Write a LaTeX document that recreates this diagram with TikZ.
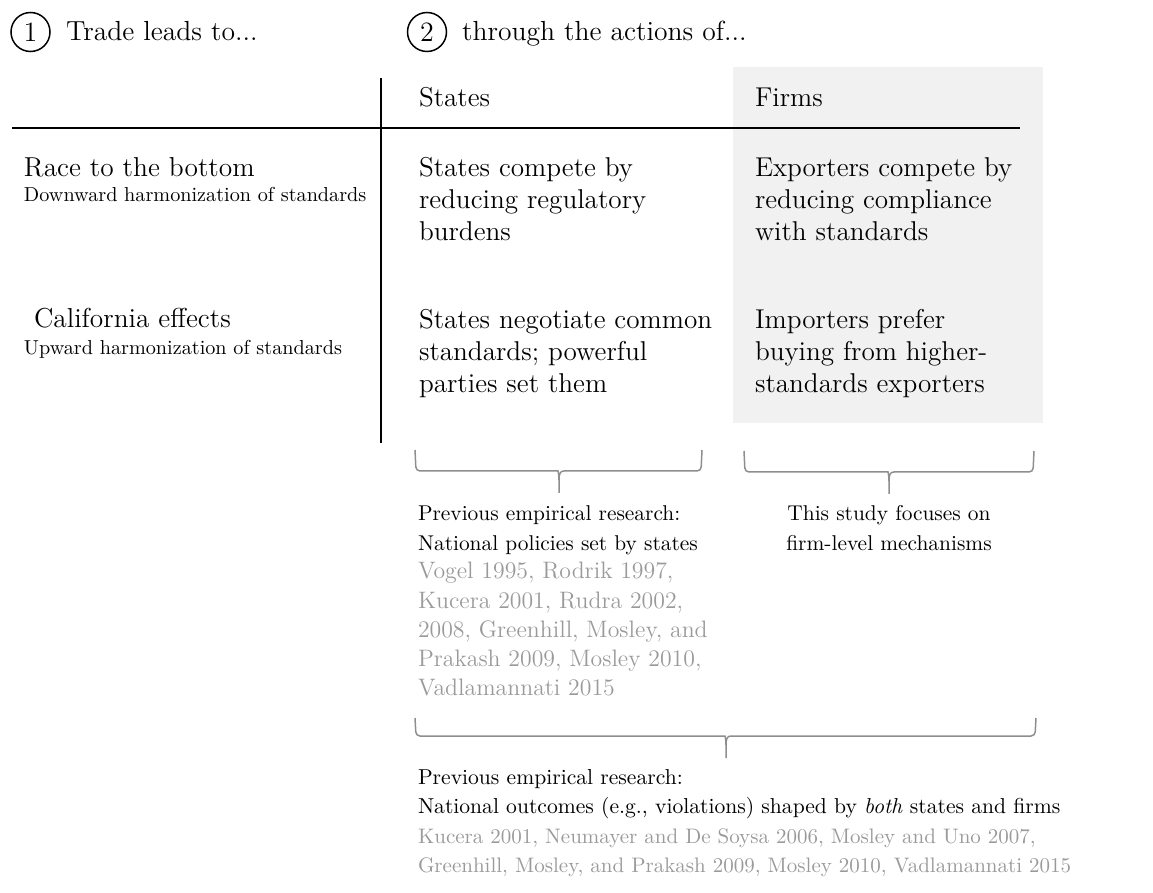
\documentclass[tikz,border=0pt]{standalone}
\usepackage{fontspec}
\definecolor{boxgrey}{HTML}{F0F1F0}
\definecolor{citegrey}{HTML}{9A9A9A}
\definecolor{bracegrey}{HTML}{8E8E8E}
\newcommand\rowsl[1]{\begin{tabular}[t]{@{}l@{}}#1\end{tabular}}
\newcommand\rowsc[1]{\begin{tabular}[t]{@{}c@{}}#1\end{tabular}}
\tikzset{
  every node/.style={inner sep=0pt, outer sep=0pt},
  circnum/.style={circle, draw, line width=0.75pt, minimum size=19.5pt, inner sep=0pt, font=\fontsize{14}{16}\selectfont},
  steptext/.style={anchor=base west, font=\fontsize{13.8}{16}\selectfont},
  head/.style={anchor=base west, font=\fontsize{13.6}{16}\selectfont},
  maintext/.style={anchor=base west, font=\fontsize{13.6}{16}\selectfont},
  rowlab/.style={anchor=base west, font=\fontsize{13.7}{16}\selectfont},
  sublab/.style={anchor=base west, font=\fontsize{10.1}{12}\selectfont},
  lab/.style={font=\fontsize{10.7}{14.6}\selectfont},
  blab/.style={font=\fontsize{10.8}{14.6}\selectfont},
  cite/.style={anchor=base west, text=citegrey, font=\fontsize{11.9}{14.6}\selectfont},
  bcite/.style={anchor=base west, text=citegrey, font=\fontsize{10.5}{14.6}\selectfont},
  rule/.style={line width=1pt, black},
  bracestyle/.style={draw=bracegrey, line width=0.75pt},
  pics/curlybrace/.style n args={5}{code={
    \draw[bracestyle] ({#1-1},#4) [rounded corners=2pt] -- (#1,#5) -- ({#3-5},#5) [sharp corners]
      .. controls ({#3-1},#5) and (#3,{#5+3}) .. (#3,{#5+9}) -- (#3,{#5+22});
    \draw[bracestyle] (#3,{#5+9}) .. controls (#3,{#5+3}) and ({#3+1},#5) .. ({#3+5},#5)
      [rounded corners=2pt] -- (#2,#5) -- ({#2+1},#4);
  }}
}
\begin{document}
\begin{tikzpicture}[x=0.5pt,y=-0.5pt]
\useasboundingbox (0,0) rectangle (1153,893);
% shaded firms column
\fill[boxgrey] (733,67) rectangle (1043,423);
% rules
\coordinate (hl) at (12,128);
\coordinate (hr) at (1020,128);
\coordinate (vt) at (381,78);
\coordinate (vb) at (381,443);
\draw[rule] (hl) -- (hr);
\draw[rule] (vt) -- (vb);
% step headings
\node[circnum] (c1) at (30.5,32) {1};
\node[steptext] (t1) at (66,41) {Trade leads to...};
\node[circnum] (c2) at (427,32) {2};
\node[steptext] (t2) at (462,41) {through the actions of...};
% column headers
\node[head] (hs) at (419,107) {States};
\node[head] (hf) at (755,107) {Firms};
% row labels
\node[rowlab] (r1) at (24,177) {Race to the bottom};
\node[sublab] (r1s) at (24,202) {Downward harmonization of standards};
\node[rowlab] (r2) at (34,328) {California effects};
\node[sublab] (r2s) at (24,355) {Upward harmonization of standards};
% cells
\node[maintext] (s1) at (419,177) {\rowsl{States compete by\\reducing regulatory\\burdens}};
\node[maintext] (f1) at (755,177) {\rowsl{Exporters compete by\\reducing compliance\\with standards}};
\node[maintext] (s2) at (419,329) {\rowsl{States negotiate common\\standards; powerful\\parties set them}};
\node[maintext] (f2) at (755,329) {\rowsl{Importers prefer\\buying from higher-\\standards exporters}};
% braces
\pic {curlybrace={416}{701}{559}{450}{471}};
\pic {curlybrace={745}{1033}{889}{451}{472}};
\pic {curlybrace={416}{1035}{726}{718}{736}};
% brace labels
\node[lab, anchor=base west] (b1) at (418,521) {\rowsl{Previous empirical research:\\National policies set by states}};
\node[cite] (b1c) at (418,579) {\rowsl{Vogel 1995, Rodrik 1997,\\Kucera 2001, Rudra 2002,\\2008, Greenhill, Mosley, and\\Prakash 2009, Mosley 2010,\\Vadlamannati 2015}};
\node[lab, anchor=base] (b2) at (889,521) {\rowsc{This study focuses on\\firm-level mechanisms}};
\node[blab, anchor=base west] (b3) at (418,784) {\rowsl{Previous empirical research:\\National outcomes (e.g., violations) shaped by \textit{both} states and firms}};
\node[bcite] (b3c) at (418,843) {\rowsl{Kucera 2001, Neumayer and De Soysa 2006, Mosley and Uno 2007,\\Greenhill, Mosley, and Prakash 2009, Mosley 2010, Vadlamannati 2015}};
\end{tikzpicture}
\end{document}
